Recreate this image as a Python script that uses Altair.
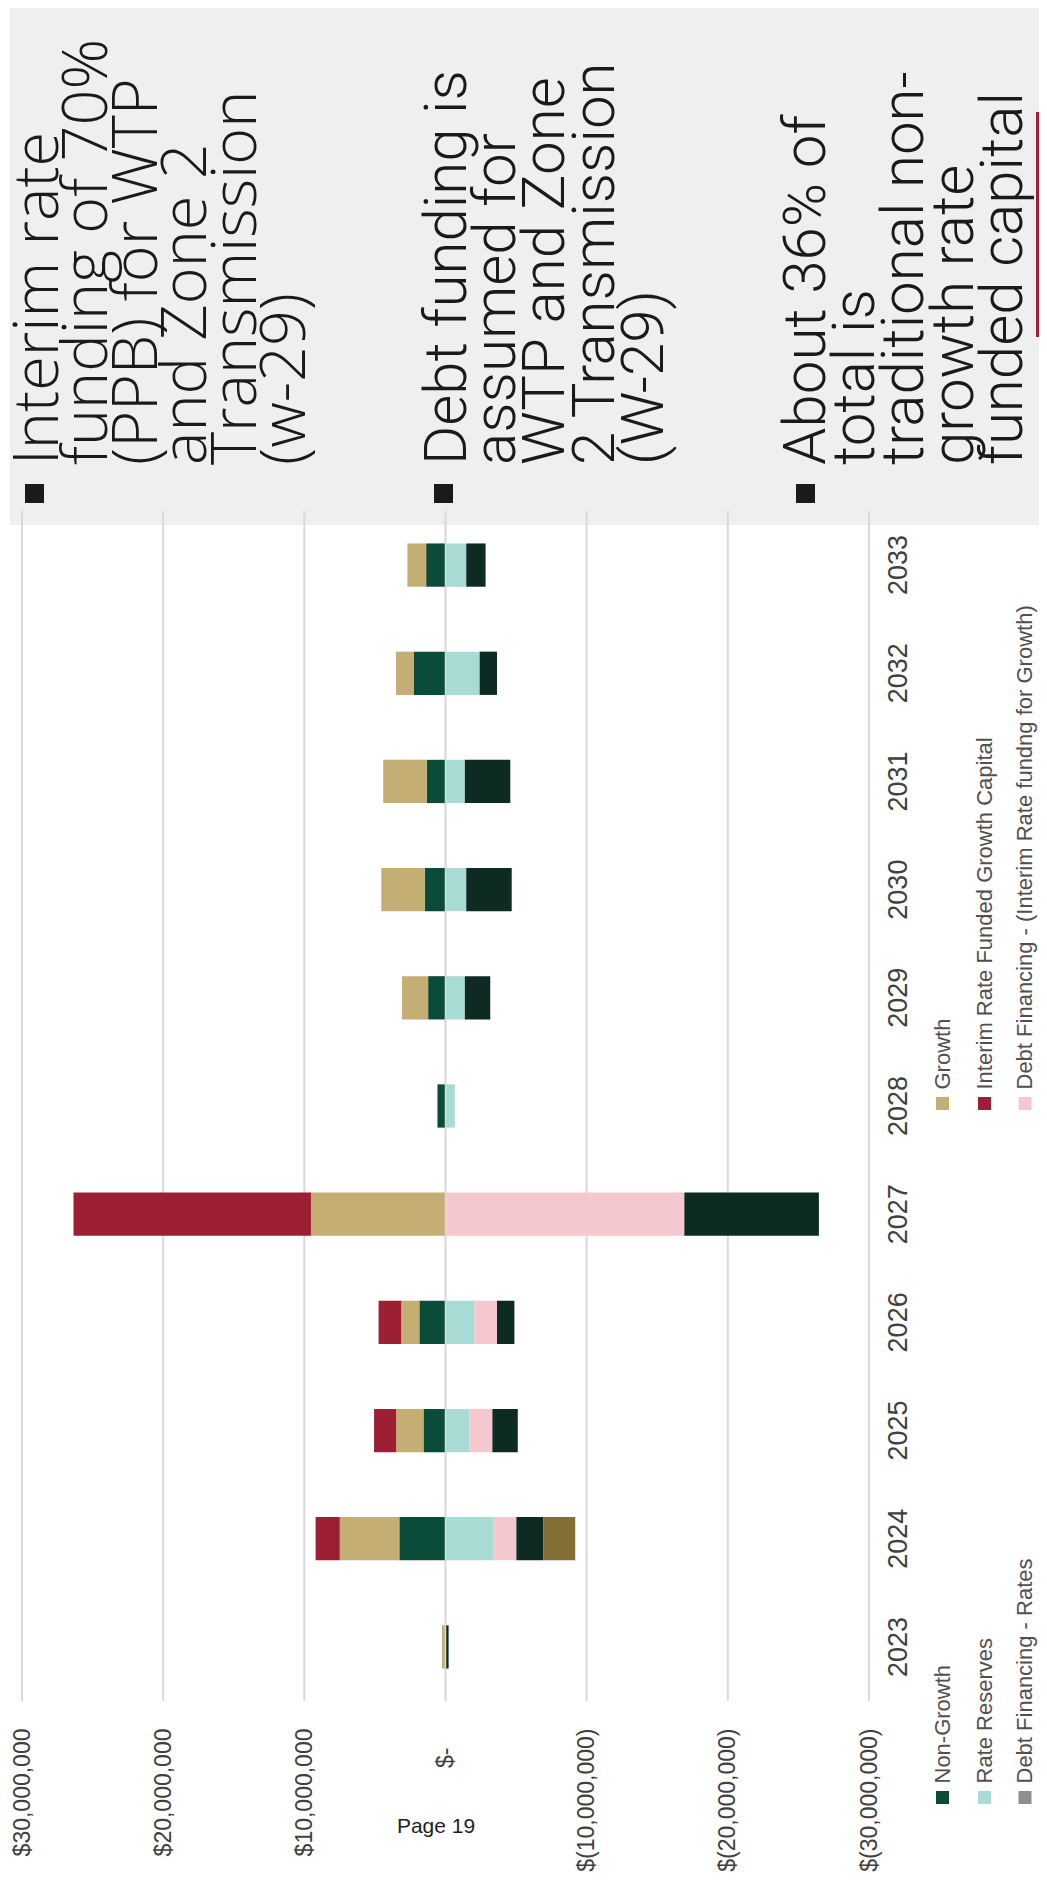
import altair as alt
import pandas as pd

# ---------------- data ----------------
years = [2023, 2024, 2025, 2026, 2027, 2028, 2029, 2030, 2031, 2032, 2033]

series_names = [
    "Non-Growth",
    "Growth",
    "Interim Rate Funded Growth Capital",
    "Rate Reserves",
    "Debt Financing - (Interim Rate fundng for Growth)",
    "Debt Financing - Rates",
    "Other Debt Financing",
]
series_colors = ["#0b4b39", "#c4ae73", "#9c1f33", "#a8dbd4", "#f5c8d0", "#0d2b23", "#836f36"]

non_growth = [0, 3270000, 1560000, 1850000, 0, 570000, 1230000, 1470000, 1330000, 2230000, 1370000]
growth = [250000, 4220000, 1940000, 1280000, 9530000, 0, 1850000, 3080000, 3080000, 1280000, 1330000]
interim = [0, 1710000, 1560000, 1610000, 16820000, 0, 0, 0, 0, 0, 0]
rate_reserves = [0, -3360000, -1710000, -2040000, 0, -660000, -1370000, -1470000, -1370000, -2420000, -1470000]
debt_interim = [0, -1660000, -1610000, -1610000, -16920000, 0, 0, 0, 0, 0, 0]
debt_rates = [-220000, -1900000, -1800000, -1230000, -9530000, 0, -1800000, -3220000, -3220000, -1230000, -1370000]
other_debt = [0, -2270000, 0, 0, 0, 0, 0, 0, 0, 0, 0]

tick_values = [30000000, 20000000, 10000000, 0, -10000000, -20000000, -30000000]

legend_rows = [
    ["Non-Growth", "Rate Reserves", "Debt Financing - Rates"],
    ["Growth", "Interim Rate Funded Growth Capital", "Debt Financing - (Interim Rate fundng for Growth)"],
]
legend_swatch = {
    "Non-Growth": "#0b4b39",
    "Rate Reserves": "#a8dbd4",
    "Debt Financing - Rates": "#8e8e90",
    "Growth": "#c4ae73",
    "Interim Rate Funded Growth Capital": "#9c1f33",
    "Debt Financing - (Interim Rate fundng for Growth)": "#f5c8d0",
}

bullets = [
    ["Interim rate", "funding of 70%", "(PPB) for WTP", "and Zone 2", "Transmission", "(w-29)"],
    ["Debt funding is", "assumed for", "WTP and Zone", "2 Transmission", "(W-29)"],
    ["About 36% of", "total is", "traditional non-", "growth rate", "funded capital"],
]
page_label = "Page 19"

# ---------------- table ----------------
all_series = [non_growth, growth, interim, rate_reserves, debt_interim, debt_rates, other_debt]
rows = []
for si, (name, vals) in enumerate(zip(series_names, all_series)):
    for y, v in zip(years, vals):
        if v != 0:
            rows.append({"year": y, "series": name, "value": v, "order": si})
df = pd.DataFrame(rows)
ticks_df = pd.DataFrame({"v": tick_values})
one = pd.DataFrame({"k": [0]})

# ---------------- layout (pixels, relative to plot origin) ----------------
W, H = 847, 1190
xscale = alt.Scale(domain=[-30000000, 30000000], reverse=True, nice=False, zero=False)
yscale = alt.Scale(paddingInner=0.6, paddingOuter=0.3)

label_expr = ("datum.value == 0 ? '$-' : datum.value > 0 ? "
              "'$' + format(datum.value, ',') : '$(' + format(-datum.value, ',') + ')'")
x_axis = alt.Axis(values=tick_values, grid=False, domain=False, ticks=False, tickSize=0,
                  labelAngle=270, labelAlign="right", labelBaseline="middle",
                  labelPadding={"condition": {"test": "datum.value == 0", "value": 46}, "value": 27},
                  labelFont="Liberation Sans, Arial", labelFontSize=23, labelColor="#404040",
                  labelExpr=label_expr, labelFlush=False, labelOverlap=False, title=None)
y_axis = alt.Axis(orient="right", labelAngle=270, labelAlign="center", labelBaseline="top",
                  labelPadding=16, labelFont="Liberation Sans Narrow, Liberation Sans",
                  labelFontSize=27, labelColor="#404040", domain=False, ticks=False, tickSize=0,
                  grid=False, title=None)

box = alt.Chart(one).mark_rect(color="#efefef").encode(
    x=alt.value(-12), x2=alt.value(1017), y=alt.value(-503), y2=alt.value(14))
accent = alt.Chart(one).mark_rect(color="#9c1f33").encode(
    x=alt.value(1014), x2=alt.value(1017), y=alt.value(-399), y2=alt.value(-174))

grid = alt.Chart(ticks_df).mark_rule(color="#d9d9d9", strokeWidth=2).encode(
    x=alt.X("v:Q", scale=xscale, axis=x_axis))

bars = alt.Chart(df).mark_bar().encode(
    x=alt.X("value:Q", stack="zero", scale=xscale, axis=x_axis),
    y=alt.Y("year:O", sort="descending", scale=yscale, axis=y_axis),
    color=alt.Color("series:N", scale=alt.Scale(domain=series_names, range=series_colors), legend=None),
    order=alt.Order("order:Q"),
)

zero_line = alt.Chart(ticks_df).mark_rule(color="#d9d9d9", strokeWidth=1.5).encode(
    x=alt.X("v:Q", scale=xscale)).transform_filter("datum.v == 0")

layers = [box, accent, grid, bars, zero_line]

# bullets and their text (rotated)
bullet_x = [12.5, 421.5, 783.5]
text_base_x = [36, 443.5, 802.5]
text_font = ["Open Sans", "Roboto", "Roboto"]
text_size = [63, 60, 60]
for bx, tx, ff, fs, lines in zip(bullet_x, text_base_x, text_font, text_size, bullets):
    layers.append(alt.Chart(one).mark_square(size=361, color="#1a1a1a", opacity=1).encode(
        x=alt.value(bx), y=alt.value(-17.5)))
    layers.append(alt.Chart(one).mark_text(
        text=lines, angle=270, align="left", baseline="alphabetic", lineHeight=49.4,
        font=ff, fontWeight=300, fontSize=fs, color="#1a1a1a").encode(
        x=alt.value(tx), y=alt.value(-46)))

# legend
legend_x = [920.5, 962.5, 1003]
legend_y = [1286.5, 592.5]
for ly, row in zip(legend_y, legend_rows):
    for lx, name in zip(legend_x, row):
        d = pd.DataFrame({"label": [name]})
        layers.append(alt.Chart(d).mark_square(size=169, color=legend_swatch[name], opacity=1).encode(
            x=alt.value(lx), y=alt.value(ly)))
        layers.append(alt.Chart(d).mark_text(
            angle=270, align="left", baseline="middle", font="Liberation Sans", fontSize=22,
            color="#505050").encode(text="label:N", x=alt.value(lx), y=alt.value(ly - 14)))

layers.append(alt.Chart(pd.DataFrame({"t": [page_label]})).mark_text(
    align="center", baseline="alphabetic", font="Liberation Sans", fontSize=21, color="#1f1f1f").encode(
    text="t:N", x=alt.value(414), y=alt.value(1322)))

chart = alt.layer(*layers).properties(
    width=W, height=H,
    padding={"left": 14, "top": 503, "right": 170, "bottom": 172},
    autosize=alt.AutoSizeParams(type="none"),
    background="white",
).configure_view(stroke=None)

chart.save("out.html", embed_options={"renderer": "svg", "actions": False})
